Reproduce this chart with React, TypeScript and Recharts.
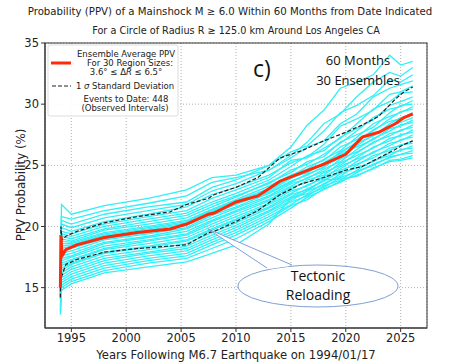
import { LineChart, Line, XAxis, YAxis, CartesianGrid } from 'recharts';

// years for the ensemble average and the 1-sigma band
const YEARS_AVG = [1994.0, 1994.05, 1994.15, 1994.5, 1995.5, 1998, 2001, 2004, 2005.5, 2007.5, 2008, 2010, 2012, 2014, 2016, 2018, 2020, 2021.5, 2023, 2024.5, 2025.3, 2026.1];
const AVG = [15.0, 19.3, 17.6, 18.1, 18.5, 19.1, 19.5, 19.8, 20.2, 21.0, 21.1, 22.0, 22.5, 23.7, 24.4, 25.1, 25.9, 27.3, 27.7, 28.4, 28.9, 29.2];
const UPPER = [15.0, 20.0, 18.9, 19.2, 19.6, 20.3, 20.8, 21.2, 21.8, 22.3, 22.6, 23.2, 24.0, 25.6, 26.2, 27.0, 27.7, 28.3, 29.0, 30.4, 31.0, 31.4];
const LOWER = [14.2, 16.4, 16.0, 16.9, 17.3, 17.9, 18.2, 18.4, 18.5, 19.5, 19.6, 20.4, 21.3, 22.6, 23.5, 24.0, 24.6, 24.9, 25.6, 26.3, 26.7, 27.0];

// years for the 30 ensemble members
const YEARS_MEM = [1994.0, 1994.1, 1995, 1998, 2002, 2005.5, 2007.8, 2010, 2013, 2015, 2016.5, 2018, 2019.5, 2021, 2022.5, 2024, 2025, 2026.1];
const MEMBERS = [
  [15.0, 21.8, 21.0, 21.7, 22.3, 23.0, 24.0, 24.2, 25.0, 26.5, 28.3, 29.5, 31.3, 31.8, 32.4, 34.0, 33.2, 33.5],
  [14.5, 20.8, 20.6, 21.3, 21.9, 22.5, 23.6, 24.0, 24.6, 25.8, 26.9, 28.4, 29.2, 30.6, 31.8, 32.6, 32.3, 33.0],
  [15.2, 20.5, 20.2, 21.0, 21.6, 22.0, 23.2, 23.8, 25.0, 26.1, 26.6, 27.8, 29.3, 29.9, 30.7, 32.0, 31.8, 32.4],
  [14.8, 20.2, 19.9, 20.7, 21.3, 21.8, 22.9, 23.5, 24.6, 25.6, 26.5, 27.0, 28.4, 29.2, 30.6, 31.3, 31.6, 31.9],
  [15.5, 19.9, 19.6, 20.4, 21.0, 21.6, 22.6, 23.2, 24.2, 25.2, 25.7, 26.7, 28.2, 28.8, 29.5, 30.8, 31.0, 31.5],
  [15.0, 19.6, 19.4, 20.2, 20.8, 21.3, 22.3, 23.0, 24.0, 25.4, 25.6, 26.4, 27.2, 28.4, 29.6, 30.2, 30.9, 31.0],
  [14.2, 19.4, 19.2, 20.0, 20.6, 21.1, 22.0, 22.7, 23.8, 24.9, 25.8, 26.2, 27.3, 28.0, 28.7, 29.9, 30.2, 30.6],
  [15.3, 19.2, 19.0, 19.8, 20.4, 20.9, 21.8, 22.5, 23.5, 24.6, 25.1, 25.9, 26.8, 27.8, 28.9, 29.6, 29.8, 30.3],
  [14.6, 19.0, 18.8, 19.7, 20.2, 20.7, 21.6, 22.4, 23.6, 24.4, 25.3, 25.7, 26.9, 27.5, 28.1, 29.3, 29.9, 30.0],
  [15.8, 18.8, 18.7, 19.5, 20.0, 20.5, 21.4, 22.2, 23.3, 24.2, 24.7, 25.5, 26.2, 27.3, 28.4, 29.0, 29.3, 29.8],
  [15.0, 18.6, 18.6, 19.4, 19.9, 20.4, 21.3, 22.1, 23.1, 24.1, 24.9, 25.4, 26.5, 27.1, 27.8, 28.8, 29.4, 29.6],
  [14.4, 18.4, 18.5, 19.3, 19.8, 20.3, 21.2, 22.0, 23.0, 24.0, 24.4, 25.2, 26.0, 26.9, 27.9, 28.6, 28.8, 29.3],
  [15.6, 18.2, 18.4, 19.2, 19.7, 20.2, 21.1, 21.9, 22.9, 23.9, 24.6, 25.0, 26.1, 26.8, 27.4, 28.4, 28.9, 29.1],
  [14.9, 18.0, 18.2, 19.0, 19.5, 20.1, 21.0, 21.8, 22.8, 23.7, 24.2, 24.9, 25.6, 26.6, 27.5, 28.2, 28.5, 28.9],
  [15.1, 17.8, 18.0, 18.9, 19.4, 19.9, 20.9, 21.6, 22.7, 23.6, 24.3, 24.8, 25.9, 26.5, 27.1, 28.0, 28.2, 28.7],
  [14.7, 17.6, 17.8, 18.7, 19.2, 19.8, 20.7, 21.5, 22.5, 23.5, 23.9, 24.7, 25.3, 26.3, 27.2, 27.8, 28.3, 28.5],
  [15.4, 17.4, 17.6, 18.6, 19.1, 19.6, 20.5, 21.3, 22.4, 23.3, 24.0, 24.5, 25.5, 26.1, 26.8, 27.6, 27.8, 28.3],
  [14.3, 17.2, 17.5, 18.4, 18.9, 19.4, 20.4, 21.2, 22.2, 23.2, 23.6, 24.4, 25.0, 26.0, 26.9, 27.4, 27.9, 28.1],
  [15.7, 17.0, 17.3, 18.2, 18.8, 19.3, 20.2, 21.0, 22.1, 23.0, 23.8, 24.2, 25.2, 25.8, 26.4, 27.2, 27.4, 27.9],
  [14.8, 16.8, 17.2, 18.1, 18.6, 19.1, 20.0, 20.8, 21.9, 22.9, 23.3, 24.1, 24.7, 25.6, 26.5, 27.0, 27.5, 27.7],
  [15.0, 16.6, 17.0, 17.9, 18.4, 18.9, 19.8, 20.6, 21.8, 22.7, 23.4, 23.9, 24.9, 25.5, 26.0, 26.8, 27.0, 27.5],
  [14.5, 16.4, 16.9, 17.8, 18.3, 18.8, 19.7, 20.5, 21.6, 22.6, 23.0, 23.8, 24.4, 25.3, 26.1, 26.6, 27.1, 27.3],
  [15.2, 16.2, 16.7, 17.6, 18.1, 18.6, 19.5, 20.3, 21.5, 22.4, 23.1, 23.7, 24.6, 25.1, 25.6, 26.4, 26.6, 27.0],
  [14.0, 16.0, 16.5, 17.4, 17.9, 18.4, 19.3, 20.1, 21.3, 22.3, 22.7, 23.5, 24.1, 25.0, 25.8, 26.2, 26.7, 26.8],
  [15.5, 15.8, 16.3, 17.2, 17.8, 18.2, 19.1, 19.9, 21.2, 22.1, 22.9, 23.4, 24.3, 24.8, 25.3, 26.0, 26.2, 26.6],
  [13.5, 15.6, 16.1, 17.0, 17.6, 18.0, 18.9, 19.7, 21.0, 22.0, 22.5, 23.3, 23.8, 24.6, 25.4, 25.8, 26.3, 26.4],
  [14.1, 15.4, 15.9, 16.8, 17.4, 17.8, 18.7, 19.5, 20.8, 21.8, 22.6, 23.2, 24.0, 24.5, 25.0, 25.7, 25.9, 26.2],
  [13.2, 15.2, 15.7, 16.6, 17.2, 17.6, 18.5, 19.3, 20.6, 21.7, 22.2, 23.1, 23.6, 24.4, 25.1, 25.6, 25.9, 26.0],
  [12.8, 15.0, 15.5, 16.4, 17.0, 17.4, 18.2, 19.0, 20.4, 21.5, 22.4, 23.0, 23.7, 24.2, 24.7, 25.4, 25.5, 25.8],
  [13.0, 14.8, 15.3, 16.2, 16.7, 17.1, 17.8, 18.5, 20.2, 22.3, 22.9, 23.8, 23.9, 24.1, 24.8, 25.3, 25.4, 25.6],
];

const X_TICKS = [1995, 2000, 2005, 2010, 2015, 2020, 2025];
const Y_TICKS = [15, 20, 25, 30, 35];

const toPoints = (xs: number[], ys: number[]) => xs.map((x, i) => ({ x, y: ys[i] }));

const FONT = 'DejaVu Sans, sans-serif';
const NOTE_FONT = '"Open Sans", "Noto Sans", sans-serif';

export default function App() {
  const avgData = toPoints(YEARS_AVG, AVG);
  const upperData = toPoints(YEARS_AVG, UPPER);
  const lowerData = toPoints(YEARS_AVG, LOWER);

  return (
    <div style={{ position: 'absolute', left: 0, top: 0, width: 457, height: 364, background: '#fff' }}>
      <LineChart width={457} height={364} margin={{ top: 43, right: 30, bottom: 16, left: 0 }}>
        <CartesianGrid stroke="#b0b0b0" strokeDasharray="1 2" />
        <XAxis
          dataKey="x"
          type="number"
          domain={[1992.6, 2027.4]}
          ticks={X_TICKS}
          allowDuplicatedCategory={false}
          height={20}
          tickSize={4}
          stroke="#333"
          tick={{ fontSize: 11.5, fill: '#222', fontFamily: FONT }}
        />
        <YAxis
          type="number"
          domain={[11.7, 35]}
          ticks={Y_TICKS}
          width={45}
          tickSize={4}
          stroke="#333"
          tick={{ fontSize: 11.5, fill: '#222', fontFamily: FONT }}
        />
        {MEMBERS.map((vals, i) => (
          <Line
            key={`m-${i}`}
            data={toPoints(YEARS_MEM, vals)}
            dataKey="y"
            stroke="#2ff0f7"
            strokeWidth={1.3}
            dot={false}
            isAnimationActive={false}
          />
        ))}
        <Line data={upperData} dataKey="y" stroke="#222" strokeWidth={1.2} strokeDasharray="4 2" dot={false} isAnimationActive={false} />
        <Line data={lowerData} dataKey="y" stroke="#222" strokeWidth={1.2} strokeDasharray="4 2" dot={false} isAnimationActive={false} />
        <Line data={avgData} dataKey="y" stroke="#ff2a0a" strokeWidth={3} dot={false} isAnimationActive={false} />
      </LineChart>

      <svg width={457} height={364} style={{ position: 'absolute', left: 0, top: 0, pointerEvents: 'none' }}>
        {/* frame */}
        <rect x={45} y={43} width={382} height={285} fill="none" stroke="#333" strokeWidth={1} />

        {/* titles */}
        <text x={230} y={15} textAnchor="middle" fontSize={10.2} fontFamily={FONT} fill="#222">
          Probability (PPV) of a Mainshock M ≥ 6.0 Within 60 Months from Date Indicated
        </text>
        <text x={236} y={34} textAnchor="middle" fontSize={9.7} fontFamily={FONT} fill="#222">
          For a Circle of Radius R ≥ 125.0 km Around Los Angeles CA
        </text>
        <text x={236} y={359} textAnchor="middle" fontSize={11.6} fontFamily={FONT} fill="#222">
          Years Following M6.7 Earthquake on 1994/01/17
        </text>
        <text x={0} y={0} transform="translate(25,185) rotate(-90)" textAnchor="middle" fontSize={11.8} fontFamily={FONT} fill="#222">
          PPV Probability (%)
        </text>

        {/* legend */}
        <rect x={48} y={45} width={130} height={71} fill="#fff" fillOpacity={0.9} stroke="#ddd" rx={2} />
        <line x1={51} y1={63} x2={71} y2={63} stroke="#ff2a0a" strokeWidth={3} />
        <line x1={52} y1={86} x2={71} y2={86} stroke="#222" strokeWidth={1.2} strokeDasharray="4 2" />
        <g fontSize={8.5} fontFamily={FONT} fill="#222" textAnchor="middle">
          <text x={126} y={57}>Ensemble Average PPV</text>
          <text x={130} y={66}>For 30 Region Sizes:</text>
          <text x={126} y={75}>3.6° ≤ Δ<tspan fontStyle="italic">R</tspan> ≤ 6.5°</text>
          <text x={125} y={88.5}>1 <tspan fontStyle="italic">σ</tspan> Standard Deviation</text>
          <text x={126} y={102}>Events to Date: 448</text>
          <text x={125} y={111}>(Observed Intervals)</text>
        </g>

        {/* annotations */}
        <text x={262} y={77} textAnchor="middle" fontSize={23} fontFamily={NOTE_FONT} fill="#111">c)</text>
        <text x={358} y={65} textAnchor="middle" fontSize={13} fontFamily={NOTE_FONT} fill="#111">60 Months</text>
        <text x={358} y={85} textAnchor="middle" fontSize={13} fontFamily={NOTE_FONT} fill="#111">30 Ensembles</text>

        {/* callout */}
        <path d="M 267 268 L 208 229 L 292 265" fill="#fff" stroke="#7f9fd6" strokeWidth={1} />
        <ellipse cx={318} cy={286} rx={80} ry={21} fill="#fff" stroke="#7f9fd6" strokeWidth={1} />
        <path d="M 268 269 L 290 266 L 279 262 Z" fill="#fff" />
        <text x={318} y={281} textAnchor="middle" fontSize={14} fontFamily={NOTE_FONT} fill="#111">Tectonic</text>
        <text x={318} y={300} textAnchor="middle" fontSize={14} fontFamily={NOTE_FONT} fill="#111">Reloading</text>
      </svg>
    </div>
  );
}
